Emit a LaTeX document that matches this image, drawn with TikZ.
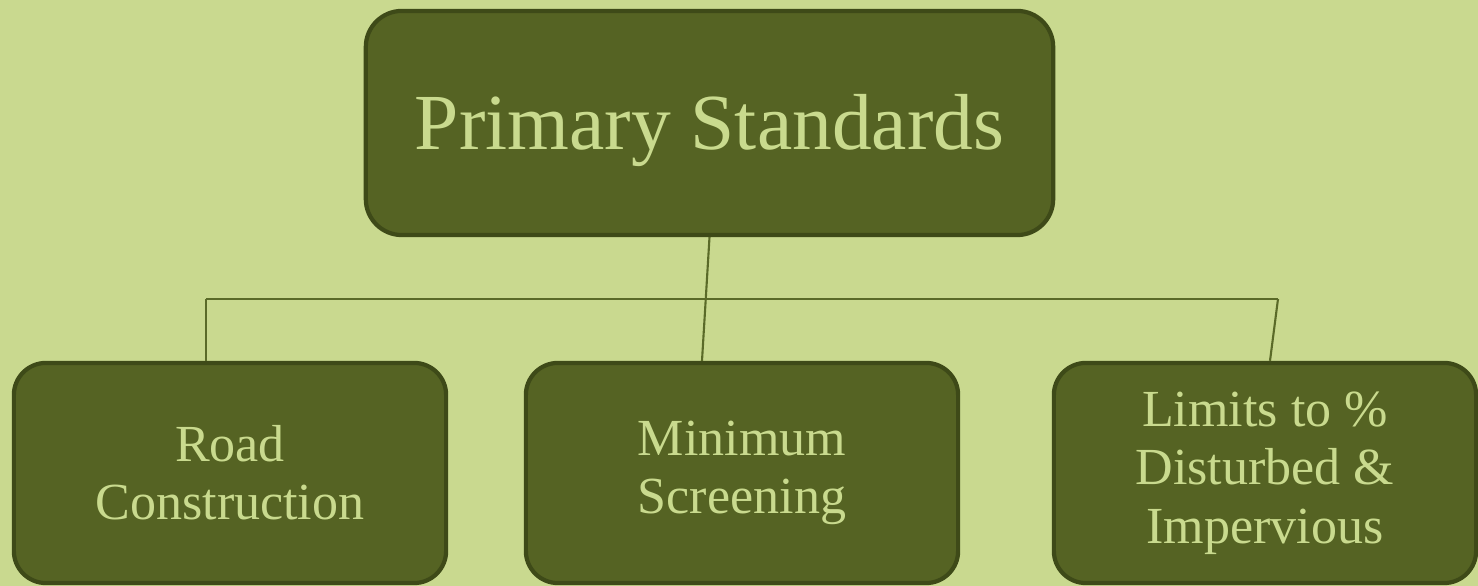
\documentclass[tikz,border=0pt]{standalone}
\usepackage{fontspec}
\setmainfont{Liberation Serif}
\usetikzlibrary{positioning,calc}
\definecolor{bgGreen}{RGB}{201,217,143}
\definecolor{boxFill}{RGB}{85,99,35}
\definecolor{boxEdge}{RGB}{62,74,24}
\definecolor{boxText}{RGB}{201,218,142}
\definecolor{linkLine}{RGB}{90,106,40}

\begin{document}
\begin{tikzpicture}[
      x=0.01cm, y=-0.01cm,
      stdbox/.style={draw=boxEdge, fill=boxFill, line width=1.2pt,
        rounded corners=0.32cm, inner sep=0pt, text=boxText, align=center},
      topbox/.style={stdbox, rounded corners=0.36cm, minimum width=6.87cm,
        minimum height=2.24cm, font=\fontsize{22.6}{26}\selectfont,
        text height=15pt, text depth=0pt},
      subbox/.style={stdbox, minimum height=2.2cm, font=\fontsize{14.8}{16.6}\selectfont},
      link/.style={draw=linkLine, line width=0.6pt}
    ]
    % background and frame
    \fill[bgGreen] (0,0) rectangle (1478,586);
    \useasboundingbox (0,0) rectangle (1478,586);
    % connectors first, boxes on top
    \coordinate (lft) at (206,299);
    \coordinate (rgt) at (1278,299);
    \node[topbox] (prim) at (709.5,123) {Primary Standards};
    \node[subbox, minimum width=4.32cm] (road) at (230,473) {Road\\Construction};
    \node[subbox, minimum width=4.32cm] (screen) at (742,473) {Minimum\\Screening};
    \node[subbox, minimum width=4.22cm] (lim) at (1265,473) {Limits to \%\\Disturbed \&\\Impervious};
    \draw[link] (lft) -- (rgt);
    \draw[link] (prim.south) -- (702,0 |- screen.north);
    \draw[link] (lft) -- (lft |- road.north);
    \draw[link] (rgt) -- (1270,0 |- lim.north);
  \end{tikzpicture}
\end{document}
